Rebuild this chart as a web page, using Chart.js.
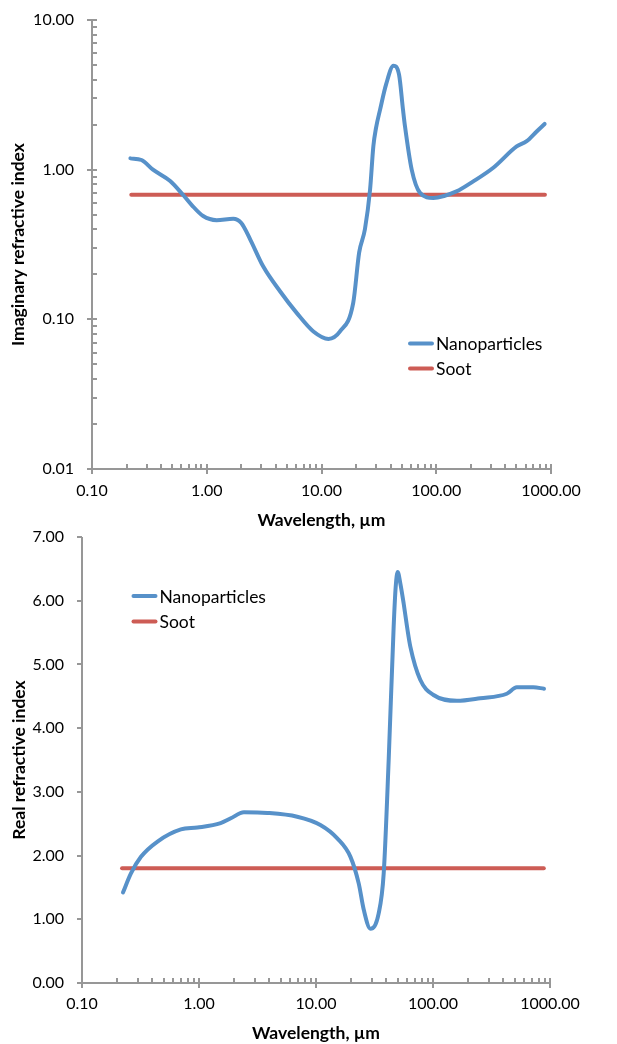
<!DOCTYPE html>
<html><head><meta charset="utf-8">
<script src="https://cdn.jsdelivr.net/npm/chart.js@4"></script>
<style>
html,body{margin:0;padding:0;background:#fff;width:617px;height:1044px;overflow:hidden;}
canvas{position:absolute;left:0;}
#c1{top:0}
#c2{top:520px}
</style></head><body>
<canvas id="c1" width="617" height="531"></canvas>
<canvas id="c2" width="617" height="524"></canvas>
<script>
// ---- data ----
const seriesNames = ['Nanoparticles', 'Soot'];
const imagWavelength = [0.216, 0.27, 0.34, 0.48, 0.62, 0.74, 0.93, 1.22, 1.70, 2.0, 2.4, 3.1, 4.35, 6.1, 8.5, 11.5, 14.5, 18.9, 21.3, 23.9, 26.5, 28.3, 29.9, 32.4, 36.5, 42.4, 47.4, 51.3, 53.4, 61.1, 72.2, 94.3, 150, 210, 314, 502, 614, 750, 880];
const imagNanoparticles = [1.19, 1.16, 1.00, 0.84, 0.68, 0.58, 0.49, 0.46, 0.47, 0.44, 0.34, 0.226, 0.154, 0.110, 0.083, 0.074, 0.083, 0.129, 0.28, 0.40, 0.735, 1.43, 1.91, 2.52, 3.70, 4.95, 4.31, 2.52, 1.95, 1.00, 0.70, 0.647, 0.716, 0.835, 1.03, 1.43, 1.55, 1.80, 2.02];
const realWavelength = [0.224, 0.262, 0.319, 0.442, 0.70, 0.97, 1.53, 1.87, 2.42, 3.84, 6.91, 10.9, 15.2, 19.7, 23.2, 25.6, 29.2, 34.3, 37.9, 41.8, 46.1, 48.0, 49.9, 52.6, 56.1, 60.0, 64.0, 77.8, 101, 160, 253, 427, 520, 721, 889];
const realNanoparticles = [1.42, 1.72, 1.98, 2.22, 2.41, 2.44, 2.51, 2.585, 2.68, 2.67, 2.61, 2.48, 2.27, 1.98, 1.56, 1.15, 0.85, 1.09, 1.72, 3.50, 5.59, 6.22, 6.45, 6.27, 5.96, 5.59, 5.28, 4.76, 4.52, 4.43, 4.47, 4.54, 4.64, 4.64, 4.62];
const sootWavelength = [0.22, 885];
const sootImag = [0.68, 0.68];
const sootReal = [1.8, 1.8];
const xTickValues = [0.1, 1, 10, 100, 1000];
const xTickLabels = ['0.10', '1.00', '10.00', '100.00', '1000.00'];
const imagTickValues = [0.01, 0.1, 1, 10];
const imagTickLabels = ['0.01', '0.10', '1.00', '10.00'];
const realTickValues = [0, 1, 2, 3, 4, 5, 6, 7];
const realTickLabels = ['0.00', '1.00', '2.00', '3.00', '4.00', '5.00', '6.00', '7.00'];

// ---- styling ----
const BLUE = '#5791c9', RED = '#cd5c55', AXIS = '#979797';
const FONT = 'Lato, "Open Sans", sans-serif';
Chart.defaults.font.family = FONT;
Chart.defaults.font.size = 16;
Chart.defaults.color = '#000';

function pts(xs, ys) { return xs.map((x, i) => ({x: x, y: ys[i]})); }

function markList(scale) {
  const out = [];
  if (scale.type === 'logarithmic') {
    const e0 = Math.floor(Math.log10(scale.min) + 1e-9), e1 = Math.ceil(Math.log10(scale.max) - 1e-9);
    for (let e = e0; e <= e1; e++) for (let m = 1; m <= 9; m++) {
      const v = m * Math.pow(10, e);
      if (v < scale.min * (1 - 1e-9) || v > scale.max * (1 + 1e-9)) continue;
      out.push({v: v, major: m === 1, log: true});
    }
  } else scale.ticks.forEach(t => out.push({v: t.value, major: true, log: false}));
  return out;
}

const axisPlugin = {
  id: 'axisMarks',
  afterDatasetsDraw(chart) {
    const {ctx, chartArea: a, scales} = chart;
    ctx.save();
    ctx.strokeStyle = AXIS; ctx.lineWidth = 2; ctx.lineCap = 'butt';
    ctx.beginPath();
    ctx.moveTo(a.left, a.top); ctx.lineTo(a.left, a.bottom + 1);
    ctx.moveTo(a.left - 1, a.bottom); ctx.lineTo(a.right, a.bottom);
    ctx.stroke();
    ctx.beginPath();
    markList(scales.x).forEach(m => {
      const p = Math.round(scales.x.getPixelForValue(m.v));
      if (m.major) { ctx.moveTo(p, a.bottom - (m.log ? 5 : 0)); ctx.lineTo(p, a.bottom + 5); }
      else { ctx.moveTo(p, a.bottom - 5); ctx.lineTo(p, a.bottom); }
    });
    markList(scales.y).forEach(m => {
      const p = Math.round(scales.y.getPixelForValue(m.v));
      if (m.major) { ctx.moveTo(a.left - 5, p); ctx.lineTo(a.left + (m.log ? 5 : 0), p); }
      else { ctx.moveTo(a.left, p); ctx.lineTo(a.left + 5, p); }
    });
    ctx.stroke();
    ctx.restore();
  }
};

const legendPlugin = {
  id: 'insideLegend',
  afterDatasetsDraw(chart, args, o) {
    const ctx = chart.ctx;
    ctx.save();
    chart.data.datasets.forEach((ds, i) => {
      const y = o.y + i * o.rowGap;
      ctx.strokeStyle = ds.borderColor; ctx.lineWidth = 4; ctx.lineCap = 'round';
      ctx.beginPath(); ctx.moveTo(o.x, y); ctx.lineTo(o.x + o.len, y); ctx.stroke();
      ctx.fillStyle = '#000'; ctx.font = '17.5px ' + FONT;
      ctx.textBaseline = 'middle'; ctx.textAlign = 'left';
      ctx.fillText(ds.label, o.x + o.len + o.gap, y + 1);
    });
    ctx.restore();
  }
};

function ds(label, data, color) {
  return {label: label, data: data, borderColor: color, backgroundColor: color, showLine: true,
    borderWidth: 4, pointRadius: 0, cubicInterpolationMode: 'monotone',
    borderCapStyle: 'round', borderJoinStyle: 'round', fill: false};
}

function makeChart(id, cfg) {
  return new Chart(document.getElementById(id), {
    type: 'scatter',
    data: {datasets: [ds(seriesNames[0], cfg.nano, BLUE), ds(seriesNames[1], cfg.soot, RED)]},
    options: {
      responsive: false, animation: false, devicePixelRatio: 1,
      layout: {padding: cfg.padding},
      plugins: {legend: {display: false}, tooltip: {enabled: false}, insideLegend: cfg.legend},
      scales: {
        x: {
          type: 'logarithmic', min: 0.1, max: 1000,
          grid: {display: false, drawTicks: true, tickLength: cfg.xPad}, border: {display: false},
          afterBuildTicks: s => { s.ticks = xTickValues.map(v => ({value: v})); },
          afterFit: s => { s.height = cfg.xHeight; },
          ticks: {autoSkip: false, maxRotation: 0, padding: 0, callback: (v, i) => xTickLabels[i]},
          title: {display: true, text: 'Wavelength, µm', font: {weight: 'bold', size: 17.5}, padding: {top: 0, bottom: 0}}
        },
        y: {
          type: cfg.yType, min: cfg.yMin, max: cfg.yMax,
          grid: {display: false, drawTicks: true, tickLength: 18}, border: {display: false},
          afterBuildTicks: s => { s.ticks = cfg.yVals.map(v => ({value: v})); },
          afterFit: s => { s.width = cfg.yWidth; },
          ticks: {autoSkip: false, padding: 0, callback: (v, i) => cfg.yLabels[i]},
          title: {display: true, text: cfg.yTitle, font: {weight: 'bold', size: 17.5}, padding: {top: cfg.yTitlePad, bottom: 0}}
        }
      }
    },
    plugins: [axisPlugin, legendPlugin]
  });
}

makeChart('c1', {
  nano: pts(imagWavelength, imagNanoparticles), soot: pts(sootWavelength, sootImag),
  padding: {left: 0, right: 66, top: 20, bottom: 0}, xHeight: 62, xPad: 12, yWidth: 92, yTitlePad: 7.5,
  yType: 'logarithmic', yMin: 0.01, yMax: 10, yVals: imagTickValues, yLabels: imagTickLabels,
  yTitle: 'Imaginary refractive index',
  legend: {x: 410, y: 343.5, rowGap: 25, len: 22, gap: 4}
});
makeChart('c2', {
  nano: pts(realWavelength, realNanoparticles), soot: pts(sootWavelength, sootReal),
  padding: {left: 0, right: 67, top: 17, bottom: 0}, xHeight: 61, xPad: 11, yWidth: 82, yTitlePad: 8.5,
  yType: 'linear', yMin: 0, yMax: 7, yVals: realTickValues, yLabels: realTickLabels,
  yTitle: 'Real refractive index',
  legend: {x: 133.5, y: 76, rowGap: 25.5, len: 22, gap: 4}
});
</script>
</body></html>
